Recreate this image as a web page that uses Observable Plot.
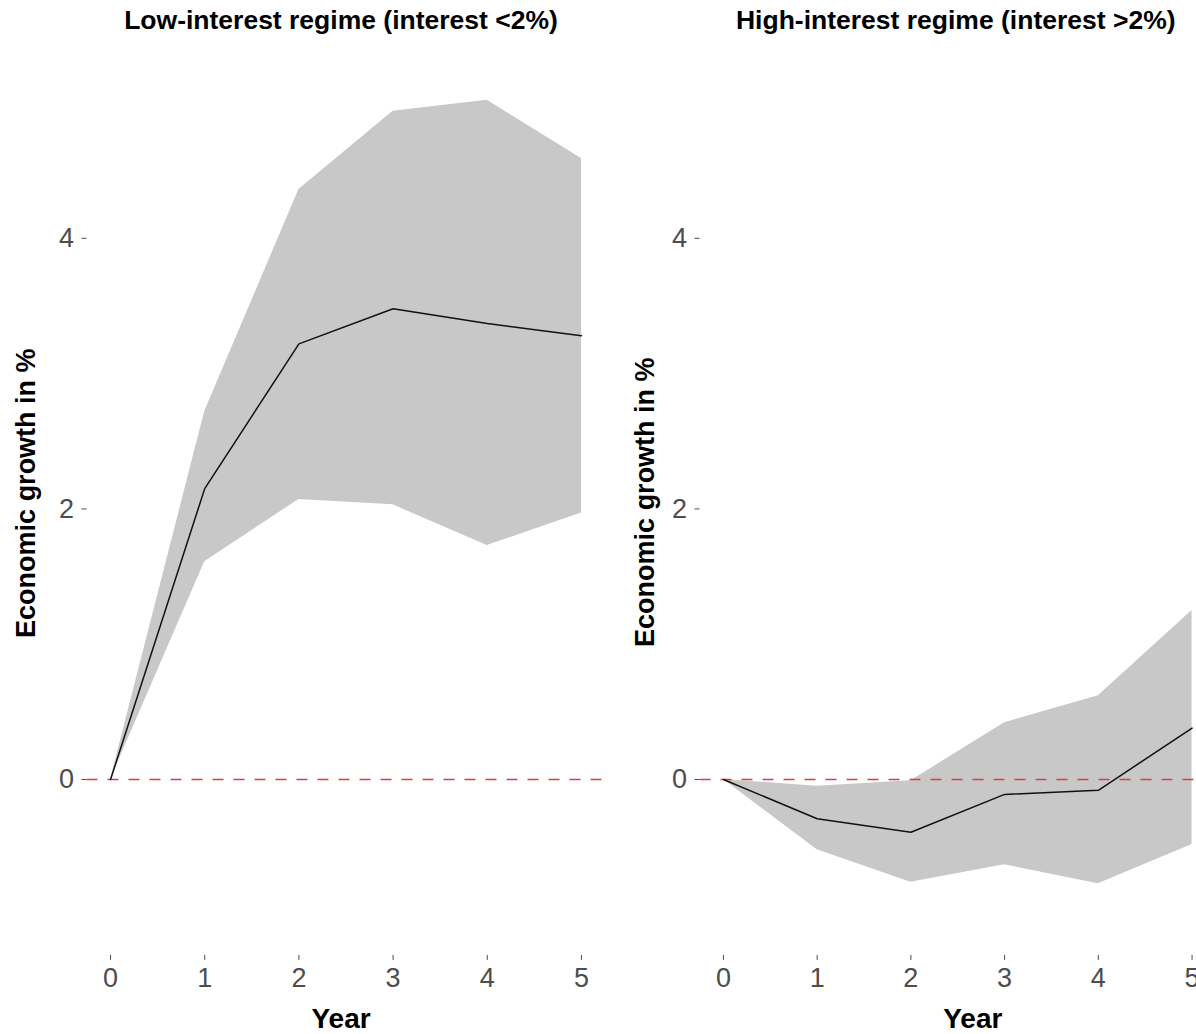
<!DOCTYPE html>
<html><head><meta charset="utf-8">
<script src="https://cdn.jsdelivr.net/npm/d3@7"></script>
<script src="https://cdn.jsdelivr.net/npm/@observablehq/plot@0.6"></script>
<style>
html,body{margin:0;padding:0;background:#fff;overflow:hidden;}
#wrap{display:flex;width:1196px;height:1034px;overflow:hidden;}
#wrap svg{flex:none;font-family:"Liberation Sans",Arial,Helvetica,sans-serif;}
</style></head><body><div id="wrap"></div>
<script>
const years = [0, 1, 2, 3, 4, 5];
const lowEstimate = [0, 2.15, 3.22, 3.48, 3.37, 3.28];
const lowLower = [0, 1.61, 2.07, 2.03, 1.73, 1.97];
const lowUpper = [0, 2.72, 4.36, 4.94, 5.02, 4.59];
const highEstimate = [0, -0.29, -0.39, -0.11, -0.08, 0.38];
const highLower = [0, -0.52, -0.76, -0.63, -0.77, -0.48];
const highUpper = [0, -0.05, -0.01, 0.42, 0.62, 1.25];
const titles = ["Low-interest regime (interest <2%)", "High-interest regime (interest >2%)"];
const yTicks = [0, 2, 4];
const xLabel = "Year";
const yLabel = "Economic growth in %";

function panel(est, lo, hi, title, o) {
  const rows = years.map((year, i) => ({year, est: est[i], lo: lo[i], hi: hi[i]}));
  return Plot.plot({
    width: o.width, height: 1034,
    marginLeft: o.marginLeft, marginRight: o.marginRight,
    marginTop: 48.4, marginBottom: 79.1,
    style: {fontSize: "27px", fontFamily: '"Liberation Sans",Arial,Helvetica,sans-serif', color: "#4d4d4d", background: "white", overflow: "visible"},
    x: {domain: [-0.25, 5.25], ticks: years, tickSize: 5, tickPadding: 7, label: null, tickFormat: d => String(d)},
    y: {domain: [-1.3, 5.4], ticks: yTicks, tickSize: 5, tickPadding: 8, label: null, tickFormat: d => String(d)},
    marks: [
      Plot.areaY(rows, {x: "year", y1: "lo", y2: "hi", fill: "#c8c8c8"}),
      Plot.ruleY([0], {stroke: "#e8383c", strokeWidth: 1.7, strokeDasharray: "11,10"}),
      Plot.line(rows, {x: "year", y: "est", stroke: "#111", strokeWidth: 1.5}),
      Plot.text([title], {frameAnchor: "top", lineAnchor: "top", dy: -39, dx: o.titleDx, fontWeight: "bold", fontSize: 26.5, fill: "black"}),
      Plot.text([xLabel], {frameAnchor: "bottom", lineAnchor: "middle", textAnchor: "middle", dy: 64, dx: o.xLabelDx, fontWeight: "bold", fontSize: 28, fill: "black"}),
      Plot.text([yLabel], {frameAnchor: "left", lineAnchor: "middle", textAnchor: "middle", rotate: -90, dx: o.yLabelDx, dy: o.yLabelDy, fontWeight: "bold", fontSize: 27, fill: "black"})
    ]
  });
}

const wrap = document.getElementById("wrap");
wrap.append(panel(lowEstimate, lowLower, lowUpper, titles[0],
  {width: 620, marginLeft: 86.5, marginRight: 15.5, titleDx: -5, xLabelDx: -5, yLabelDx: -60.5, yLabelDy: -9}));
wrap.append(panel(highEstimate, highLower, highUpper, titles[1],
  {width: 600, marginLeft: 79.5, marginRight: 5, titleDx: -2, xLabelDx: 15, yLabelDx: -54.5, yLabelDy: 0}));
</script></body></html>
